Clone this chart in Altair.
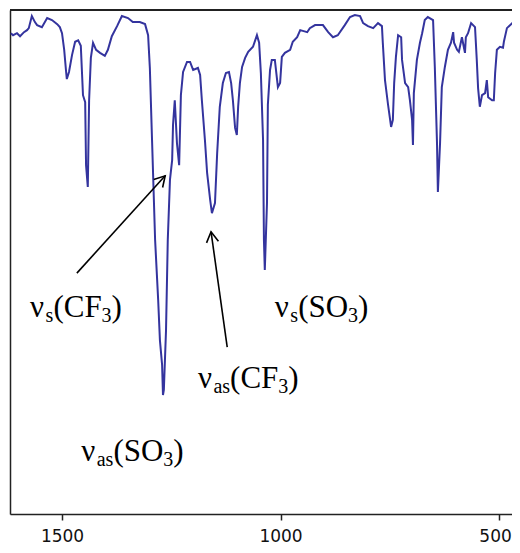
import math
import altair as alt
import pandas as pd

# ---- spectrum ----
wavenumber = [1617, 1612, 1603, 1596, 1587, 1580, 1576, 1569, 1562, 1557, 1546, 1534, 1523, 1511, 1505,
              1500, 1495, 1491, 1489, 1484, 1477, 1470, 1463, 1457, 1452, 1447, 1445, 1441, 1438, 1434,
              1429, 1422, 1413, 1402, 1395, 1386, 1374, 1363, 1349, 1338, 1322, 1310, 1303, 1299, 1294,
              1287, 1280, 1276, 1271, 1269, 1267, 1262, 1258, 1253, 1248, 1246, 1242, 1237, 1232, 1228,
              1223, 1214, 1207, 1200, 1189, 1184, 1180, 1173, 1168, 1161, 1157, 1150, 1145, 1139, 1132,
              1125, 1118, 1113, 1109, 1104, 1100, 1097, 1093, 1088, 1081, 1074, 1063, 1054, 1049, 1045,
              1040, 1038, 1036, 1031, 1029, 1024, 1020, 1013, 1006, 1001, 997, 990, 978, 972, 962,
              955, 939, 933, 921, 903, 891, 880, 869, 853, 841, 830, 818, 811, 800, 788,
              777, 768, 766, 761, 754, 747, 743, 740, 736, 731, 724, 722, 715, 708, 704,
              699, 697, 695, 688, 681, 676, 670, 663, 651, 647, 642, 640, 635, 631, 624,
              617, 610, 605, 603, 596, 592, 585, 583, 578, 576, 571, 564, 555, 551, 548,
              544, 539, 532, 528, 525, 516, 512, 509, 505, 498, 491, 489, 482, 470, 464,
              457, 452]
transmittance = [95.4, 95.0, 95.4, 94.8, 95.6, 96.0, 96.4, 98.8, 97.6, 97.0, 96.6, 98.4, 98.0, 97.2, 96.6,
                 95.4, 92.1, 88.1, 86.3, 87.7, 91.1, 93.7, 94.0, 92.9, 83.1, 81.7, 69.2, 64.9, 82.1, 90.5,
                 93.5, 92.1, 91.5, 90.9, 92.1, 94.8, 96.8, 98.8, 98.4, 97.6, 97.6, 97.2, 95.0, 88.5, 74.2,
                 54.4, 42.5, 34.5, 29.6, 23.6, 24.6, 36.5, 54.4, 66.3, 70.2, 77.2, 82.1, 73.6, 69.2, 83.1,
                 87.7, 89.7, 89.7, 88.1, 88.5, 87.1, 82.1, 74.2, 67.7, 62.3, 59.7, 61.7, 71.6, 80.8, 85.5,
                 87.5, 87.7, 85.5, 82.1, 76.6, 75.2, 80.8, 85.5, 88.7, 90.5, 91.7, 92.7, 95.0, 93.5, 87.5,
                 74.2, 54.4, 48.4, 61.7, 81.2, 88.1, 90.1, 90.1, 84.7, 85.5, 90.7, 91.5, 92.1, 93.7, 94.6,
                 96.0, 95.6, 96.4, 97.0, 97.0, 95.6, 94.6, 95.0, 97.0, 98.6, 99.0, 98.8, 97.4, 96.8, 96.4,
                 97.4, 96.8, 93.5, 86.1, 81.2, 76.8, 78.2, 85.5, 90.7, 95.0, 94.6, 90.1, 85.5, 84.7, 82.1,
                 78.2, 73.2, 83.5, 90.1, 93.5, 95.4, 98.0, 98.6, 98.0, 88.7, 73.6, 63.9, 73.6, 84.7, 88.7,
                 92.1, 93.5, 95.6, 93.5, 92.1, 91.7, 94.6, 93.7, 91.5, 94.6, 95.4, 97.4, 96.6, 90.1, 84.5,
                 80.8, 83.1, 83.5, 86.1, 82.7, 82.1, 82.1, 87.5, 92.1, 92.7, 92.5, 93.7, 96.4, 97.4, 98.0,
                 97.0, 97.6]

tick_values = [1500, 1000, 500]

# ---- annotations ----
# each label: anchor wavenumber (left edge), baseline transmittance, parts (text, is_subscript)
label_anchor_wn = [1573, 1013, 1189, 1456]
label_baseline_T = [39.1, 39.1, 25.0, 10.5]
label_parts = [
    [("ν", False), ("s", True), ("(CF", False), ("3", True), (")", False)],
    [("ν", False), ("s", True), ("(SO", False), ("3", True), (")", False)],
    [("ν", False), ("as", True), ("(CF", False), ("3", True), (")", False)],
    [("ν", False), ("as", True), ("(SO", False), ("3", True), (")", False)],
]

arrow_tail_wn = [1466, 1122]
arrow_tail_T = [47.8, 33.1]
arrow_tip_wn = [1264, 1159]
arrow_tip_T = [67.1, 56.0]

# ---- layout ----
X_DOMAIN = [1619, 470.4]
Y_DOMAIN = [0, 100]
W, H = 502, 504
px_per_wn = W / (X_DOMAIN[0] - X_DOMAIN[1])
px_per_T = H / (Y_DOMAIN[1] - Y_DOMAIN[0])

MAIN_SIZE, SUB_SIZE = 31, 20
SERIF = "Liberation Serif"
# Times-metric advance widths (em)
adv = {"ν": 0.5, "s": 0.389, "a": 0.444, "(": 0.333, ")": 0.333, "C": 0.667,
       "F": 0.556, "S": 0.556, "O": 0.722, "3": 0.5}

main_rows, sub_rows = [], []
for awn, bT, parts in zip(label_anchor_wn, label_baseline_T, label_parts):
    off = 0.0
    for txt, sub in parts:
        size = SUB_SIZE if sub else MAIN_SIZE
        row = {"wn": awn - off / px_per_wn, "T": bT, "text": txt}
        (sub_rows if sub else main_rows).append(row)
        off += sum(adv[c] for c in txt) * size
main_df = pd.DataFrame(main_rows)
sub_df = pd.DataFrame(sub_rows)

arrows = pd.DataFrame({"wn": arrow_tail_wn, "T": arrow_tail_T,
                       "wn2": arrow_tip_wn, "T2": arrow_tip_T})
angles = []
for a in arrows.itertuples():
    dx = (a.wn - a.wn2) * px_per_wn
    dy = (a.T2 - a.T) * px_per_T
    angles.append(math.degrees(math.atan2(dx, dy)) % 360)
arrows["angle"] = angles

spec = pd.DataFrame({"wn": wavenumber, "T": transmittance})

x_scale = alt.Scale(domain=X_DOMAIN, nice=False, zero=False)
y_scale = alt.Scale(domain=Y_DOMAIN, nice=False, zero=False)

FRAME = "#222222"

line = alt.Chart(spec).mark_line(color="#34349E", strokeWidth=2, clip=True).encode(
    x=alt.X("wn:Q", scale=x_scale, sort=None,
            axis=alt.Axis(values=tick_values, format="d", title=None, grid=False,
                          domainColor=FRAME, domainWidth=1.5, tickColor=FRAME, tickWidth=1.5,
                          tickSize=6, labelPadding=8, labelFont="DejaVu Sans", labelFontSize=17,
                          labelColor="#111111", labelFlush=False,
                          labelOffset={"expr": "datum.value == 500 ? -4 : 0"})),
    y=alt.Y("T:Q", scale=y_scale,
            axis=alt.Axis(labels=False, ticks=False, grid=False, title=None,
                          domainColor=FRAME, domainWidth=1.5)),
)

top_border = alt.Chart(spec).mark_rule(color=FRAME, strokeWidth=1.5).encode(
    y=alt.YDatum(100)
)

shafts = alt.Chart(arrows).mark_rule(color="black", strokeWidth=1.6).encode(
    x="wn:Q", y="T:Q", x2="wn2:Q", y2="T2:Q"
)

heads = alt.Chart(arrows).mark_point(
    shape="M -0.5 0.866 L 0 0 L 0.5 0.866", filled=False, color="black",
    strokeWidth=1.6, size=576, opacity=1
).encode(
    x="wn2:Q", y="T2:Q", angle=alt.Angle("angle:Q", scale=None)
)

main_text = alt.Chart(main_df).mark_text(
    font=SERIF, fontSize=MAIN_SIZE, align="left", baseline="alphabetic", color="black"
).encode(x="wn:Q", y="T:Q", text="text:N")

sub_text = alt.Chart(sub_df).mark_text(
    font=SERIF, fontSize=SUB_SIZE, align="left", baseline="alphabetic", color="black", dy=5
).encode(x="wn:Q", y="T:Q", text="text:N")

chart = alt.layer(line, top_border, shafts, heads, main_text, sub_text).properties(
    width=W, height=H,
    autosize=alt.AutoSizeParams(type="none"),
    padding={"left": 2, "top": 2, "right": 0, "bottom": 31},
).configure_view(stroke=None).configure(background="white")

chart.save("out.html", embed_options={"renderer": "svg", "actions": False})
